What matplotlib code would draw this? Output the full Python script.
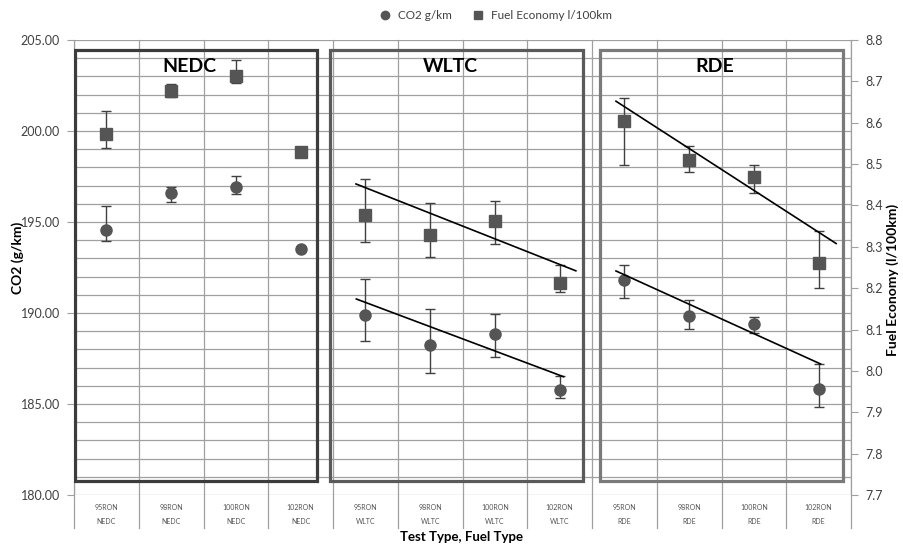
import matplotlib
matplotlib.use("Agg")
import matplotlib.pyplot as plt
import matplotlib.transforms as mtransforms
from matplotlib.lines import Line2D
import numpy as np

plt.rcParams['font.family'] = ['Lato', 'DejaVu Sans']

fuels = ['95RON', '98RON', '100RON', '102RON'] * 3
tests = ['NEDC'] * 4 + ['WLTC'] * 4 + ['RDE'] * 4
groups = ['NEDC', 'WLTC', 'RDE']

co2 = [194.55, 196.58, 196.92, 193.52, 189.89, 188.26, 188.86, 185.75, 191.80, 189.84, 189.40, 185.81]
co2_hi = [195.87, 196.90, 197.53, np.nan, 191.88, 190.20, 189.96, 186.54, 192.65, 190.70, 189.80, 187.18]
co2_lo = [193.96, 196.10, 196.52, np.nan, 188.46, 186.72, 187.60, 185.31, 190.84, 189.10, 188.92, 184.82]

fe = [8.573, 8.677, 8.714, 8.529, 8.377, 8.328, 8.362, 8.212, 8.604, 8.511, 8.468, 8.262]
fe_hi = [8.628, 8.694, 8.752, np.nan, 8.464, 8.405, 8.411, 8.256, 8.659, 8.544, 8.498, 8.338]
fe_lo = [8.538, 8.663, 8.695, np.nan, 8.311, 8.275, 8.306, 8.191, 8.497, 8.482, 8.431, 8.200]

# hand drawn trend lines (category position, value)
wltc_co2_trend = ([3.86, 7.06], [190.77, 186.50])
wltc_fe_trend = ([3.855, 7.25], [8.452, 8.242])
rde_co2_trend = ([7.87, 11.03], [192.31, 187.20])
rde_fe_trend = ([7.87, 11.27], [8.652, 8.308])

grid_c = '#a0a0a0'
mark_c = '#555555'
txt_c = '#404040'

fig = plt.figure(figsize=(9.04, 5.45), dpi=100)
ax = fig.add_axes([0.0819, 0.0917, 0.8595, 0.8349])
ax2 = ax.twinx()

n = len(fuels)
x = np.arange(n)
ax.set_xlim(-0.5, n - 0.5)
ax.set_ylim(180, 205)
ax2.set_ylim(7.7, 8.8)

for a in (ax, ax2):
    for s in a.spines.values():
        s.set_visible(False)
ax.set_xticks([])

# gridlines
for v in range(180, 206):
    ax.axhline(v, color=grid_c, lw=0.9, zorder=0)
trans = mtransforms.blended_transform_factory(ax.transData, ax.transAxes)
for b in np.arange(-0.5, n, 1.0):
    ax.plot([b, b], [-0.072, 1.0], transform=trans, color=grid_c, lw=0.9,
            clip_on=False, zorder=0)

# category labels
for i in range(n):
    ax.text(i, -0.027, fuels[i], transform=trans, ha='center', va='center',
            fontsize=5, color='#555555')
    ax.text(i, -0.058, tests[i], transform=trans, ha='center', va='center',
            fontsize=5, color='#555555')

# axes ticks
ax.set_yticks(np.arange(180, 206, 5))
ax.set_yticklabels(['%.2f' % v for v in np.arange(180, 206, 5)])
ax.tick_params(axis='y', length=5, color=grid_c, labelcolor=txt_c, labelsize=9, pad=5)
ax2.set_yticks(np.round(np.arange(7.7, 8.81, 0.1), 1))
ax2.set_yticklabels(['%.1f' % v for v in np.arange(7.7, 8.81, 0.1)])
ax2.tick_params(axis='y', length=5, color=grid_c, labelcolor=txt_c, labelsize=9, pad=5)
ax.axvline(-0.5, color=grid_c, lw=0.9)
ax2.axvline(n - 0.5, color=grid_c, lw=0.9)

fig.text(18 / 904, 1 - 258 / 545, 'CO2 (g/km)', rotation=90, ha='center', va='center',
         fontsize=10, fontweight='bold')
fig.text(893 / 904, 1 - 280 / 545, 'Fuel Economy (l/100km)', rotation=90, ha='center',
         va='center', fontsize=10, fontweight='bold')
fig.text(462 / 904, 1 - 537 / 545, 'Test Type, Fuel Type', ha='center', va='center',
         fontsize=9.5, fontweight='bold')

# group boxes
box_spans = [(-0.485, 3.25), (3.455, 7.36), (7.625, 11.375)]
box_cols = ['#3c3c3c', '#5a5a5a', '#7a7a7a']
for g, (x0, x1), bc in zip(groups, box_spans, box_cols):
    ax.add_patch(plt.Rectangle((x0, 180.77), x1 - x0, 204.45 - 180.77, fill=False,
                               edgecolor=bc, lw=2.3, zorder=2))
    ax.text((x0 + x1) / 2 - 0.1, 203.55, g, ha='center', va='center',
            fontsize=14, fontweight='bold', color='black', zorder=3)

# error bars
co2 = np.array(co2); fe = np.array(fe)
m1 = ~np.isnan(co2_hi)
ax.errorbar(x[m1], co2[m1], yerr=[co2[m1] - np.array(co2_lo)[m1], np.array(co2_hi)[m1] - co2[m1]],
            fmt='none', ecolor=txt_c, elinewidth=1, capsize=3.5, capthick=1, zorder=3)
m2 = ~np.isnan(fe_hi)
ax2.errorbar(x[m2], fe[m2], yerr=[fe[m2] - np.array(fe_lo)[m2], np.array(fe_hi)[m2] - fe[m2]],
             fmt='none', ecolor=txt_c, elinewidth=1, capsize=3.5, capthick=1, zorder=3)

ax.plot(x, co2, 'o', color=mark_c, ms=8, ls='none', zorder=4)
ax2.plot(x, fe, 's', color=mark_c, ms=8, ls='none', zorder=4)

for tx, ty in (wltc_co2_trend, rde_co2_trend):
    ax.plot(tx, ty, color='black', lw=1.2, zorder=5)
for tx, ty in (wltc_fe_trend, rde_fe_trend):
    ax2.plot(tx, ty, color='black', lw=1.2, zorder=5)

handles = [Line2D([], [], marker='o', color=mark_c, ls='none', ms=6),
           Line2D([], [], marker='s', color=mark_c, ls='none', ms=6)]
fig.legend(handles, ['CO2 g/km', 'Fuel Economy l/100km'], loc='center',
           bbox_to_anchor=(0.545, 0.972), ncol=2, frameon=False, fontsize=8.5,
           handletextpad=0.1, columnspacing=1.2, labelcolor=txt_c)

fig.savefig('out.png', dpi=100)
